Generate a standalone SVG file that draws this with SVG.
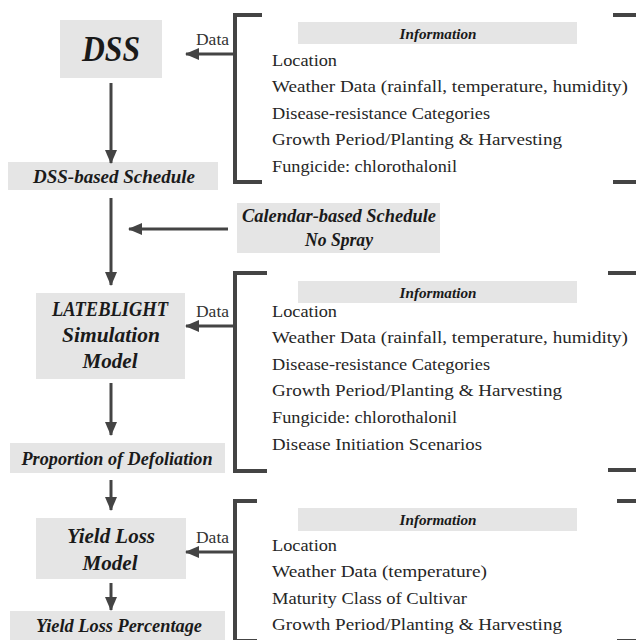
<svg xmlns="http://www.w3.org/2000/svg" width="636" height="640" viewBox="0 0 636 640">
<style>
.box{fill:#e5e5e5}
.lbl{font-family:"Liberation Serif",serif;font-weight:bold;font-style:italic;fill:#1a1a1a;text-anchor:middle}
.info{font-family:"Liberation Serif",serif;font-size:17px;fill:#262626}
.hdr{font-family:"Liberation Serif",serif;font-weight:bold;font-style:italic;font-size:15px;fill:#1a1a1a;text-anchor:middle}
.data{font-family:"Liberation Serif",serif;font-size:16px;fill:#333}
.ln{stroke:#444;stroke-width:3;fill:none}
.br{stroke:#444;stroke-width:4;fill:none}
</style>
<defs>
<marker id="ah" markerUnits="userSpaceOnUse" markerWidth="14" markerHeight="14" viewBox="0 0 14 14" refX="13" refY="7" orient="auto">
<path d="M0,1 L14,7 L0,13 Z" fill="#444"/>
</marker>
</defs>

<g id="dss"><rect class="box" x="60" y="20" width="102" height="58"/><text class="lbl" x="111" y="61" font-size="35" textLength="58" lengthAdjust="spacingAndGlyphs">DSS</text></g>
<g id="dss-schedule"><rect class="box" x="8" y="162" width="210" height="28"/><text class="lbl" x="114" y="183" font-size="18" textLength="162" lengthAdjust="spacingAndGlyphs">DSS-based Schedule</text></g>
<g id="calendar"><rect class="box" x="237" y="203" width="203" height="50"/><text class="lbl" x="339" y="222" font-size="18" textLength="194" lengthAdjust="spacingAndGlyphs">Calendar-based Schedule</text><text class="lbl" x="339" y="246" font-size="18" textLength="68" lengthAdjust="spacingAndGlyphs">No Spray</text></g>
<g id="lateblight"><rect class="box" x="36" y="293" width="149" height="86"/><text class="lbl" x="110" y="316" font-size="20" textLength="116" lengthAdjust="spacingAndGlyphs">LATEBLIGHT</text><text class="lbl" x="111" y="342" font-size="20" textLength="98" lengthAdjust="spacingAndGlyphs">Simulation</text><text class="lbl" x="110" y="368" font-size="20" textLength="55" lengthAdjust="spacingAndGlyphs">Model</text></g>
<g id="defoliation"><rect class="box" x="10" y="443" width="215" height="30"/><text class="lbl" x="117" y="465" font-size="18" textLength="191" lengthAdjust="spacingAndGlyphs">Proportion of Defoliation</text></g>
<g id="yieldmodel"><rect class="box" x="36" y="518" width="150" height="61"/><text class="lbl" x="111" y="543" font-size="20" textLength="88" lengthAdjust="spacingAndGlyphs">Yield Loss</text><text class="lbl" x="110" y="570" font-size="20" textLength="55" lengthAdjust="spacingAndGlyphs">Model</text></g>
<g id="yieldpct"><rect class="box" x="10" y="611" width="215" height="35"/><text class="lbl" x="119" y="632" font-size="18" textLength="166" lengthAdjust="spacingAndGlyphs">Yield Loss Percentage</text></g>

<g id="info1">
<path class="br" d="M262,15 H235 V182 H262"/>
<path class="br" d="M613,15 H640 M613,182 H640"/>
<rect class="box" x="298" y="22" width="279" height="22"/>
<text class="hdr" x="438" y="39" textLength="77" lengthAdjust="spacingAndGlyphs">Information</text>
<text class="info" x="272" y="66" textLength="65" lengthAdjust="spacingAndGlyphs">Location</text>
<text class="info" x="272" y="92" textLength="356" lengthAdjust="spacingAndGlyphs">Weather Data (rainfall, temperature, humidity)</text>
<text class="info" x="272" y="119" textLength="218" lengthAdjust="spacingAndGlyphs">Disease-resistance Categories</text>
<text class="info" x="272" y="145" textLength="290" lengthAdjust="spacingAndGlyphs">Growth Period/Planting &amp; Harvesting</text>
<text class="info" x="272" y="172" textLength="185" lengthAdjust="spacingAndGlyphs">Fungicide: chlorothalonil</text>
</g>
<g id="info2">
<path class="br" d="M267,273 H235 V471 H267"/>
<path class="br" d="M608,273 H640 M608,470 H640"/>
<rect class="box" x="298" y="281" width="279" height="22"/>
<text class="hdr" x="438" y="298" textLength="77" lengthAdjust="spacingAndGlyphs">Information</text>
<text class="info" x="272" y="317" textLength="65" lengthAdjust="spacingAndGlyphs">Location</text>
<text class="info" x="272" y="343" textLength="356" lengthAdjust="spacingAndGlyphs">Weather Data (rainfall, temperature, humidity)</text>
<text class="info" x="272" y="370" textLength="218" lengthAdjust="spacingAndGlyphs">Disease-resistance Categories</text>
<text class="info" x="272" y="396" textLength="290" lengthAdjust="spacingAndGlyphs">Growth Period/Planting &amp; Harvesting</text>
<text class="info" x="272" y="423" textLength="185" lengthAdjust="spacingAndGlyphs">Fungicide: chlorothalonil</text>
<text class="info" x="272" y="450" textLength="210" lengthAdjust="spacingAndGlyphs">Disease Initiation Scenarios</text>
</g>
<g id="info3">
<path class="br" d="M257,501 H235 V641 H257"/>
<path class="br" d="M617,501 H640 M617,641 H640"/>
<rect class="box" x="298" y="508" width="279" height="23"/>
<text class="hdr" x="438" y="525" textLength="77" lengthAdjust="spacingAndGlyphs">Information</text>
<text class="info" x="272" y="551" textLength="65" lengthAdjust="spacingAndGlyphs">Location</text>
<text class="info" x="272" y="577" textLength="215" lengthAdjust="spacingAndGlyphs">Weather Data (temperature)</text>
<text class="info" x="272" y="604" textLength="195" lengthAdjust="spacingAndGlyphs">Maturity Class of Cultivar</text>
<text class="info" x="272" y="630" textLength="290" lengthAdjust="spacingAndGlyphs">Growth Period/Planting &amp; Harvesting</text>
</g>

<g id="connectors">
<line class="ln" x1="111" y1="83" x2="111" y2="163" marker-end="url(#ah)"/>
<line class="ln" x1="111" y1="198" x2="111" y2="285" marker-end="url(#ah)"/>
<line class="ln" x1="111" y1="383" x2="111" y2="435" marker-end="url(#ah)"/>
<line class="ln" x1="111" y1="480" x2="111" y2="510" marker-end="url(#ah)"/>
<line class="ln" x1="111" y1="583" x2="111" y2="610" marker-end="url(#ah)"/>
<line class="ln" x1="228" y1="229" x2="129" y2="229" marker-end="url(#ah)"/>
<line class="ln" x1="233" y1="54" x2="186" y2="54" marker-end="url(#ah)"/>
<line class="ln" x1="233" y1="326" x2="186" y2="326" marker-end="url(#ah)"/>
<line class="ln" x1="233" y1="552" x2="186" y2="552" marker-end="url(#ah)"/>
<text class="data" x="196" y="45" textLength="33" lengthAdjust="spacingAndGlyphs">Data</text>
<text class="data" x="196" y="317" textLength="33" lengthAdjust="spacingAndGlyphs">Data</text>
<text class="data" x="196" y="543" textLength="33" lengthAdjust="spacingAndGlyphs">Data</text>
</g>
</svg>
